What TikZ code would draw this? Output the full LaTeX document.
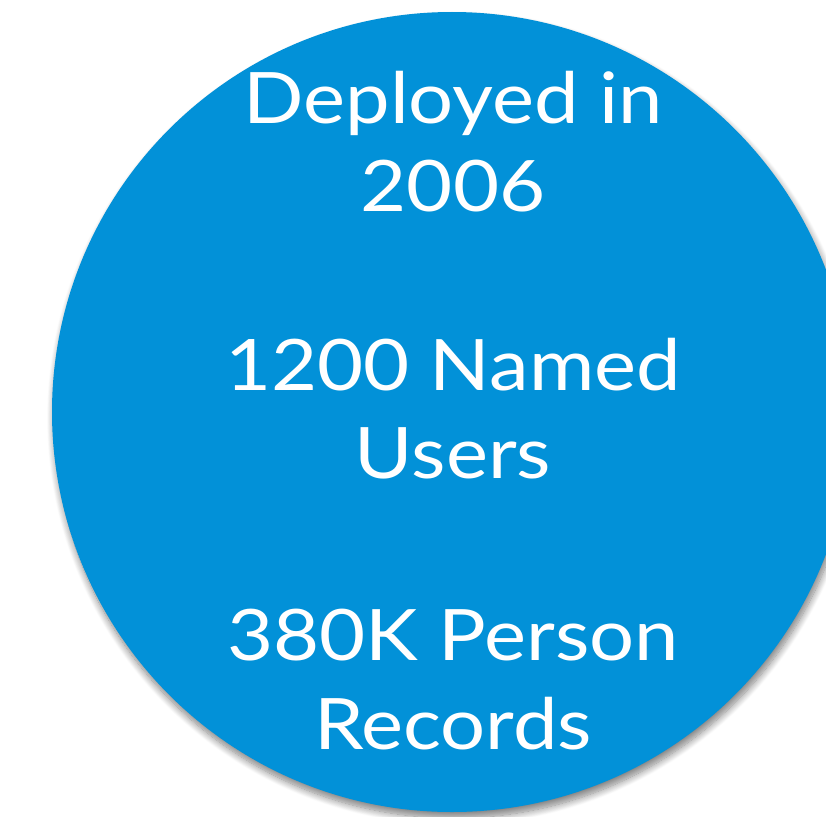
\documentclass[tikz,border=0pt]{standalone}
\usepackage{fontspec}
\setmainfont[FakeStretch=1.12]{Lato}
\usetikzlibrary{shadows.blur}
\definecolor{discblue}{RGB}{2,145,216}
\tikzset{
  disc/.style={circle, fill=discblue, minimum size=800pt, inner sep=0pt,
    blur shadow={shadow xshift=2pt, shadow yshift=-6pt, shadow blur radius=7pt,
      shadow opacity=50, shadow blur steps=12}},
  statline/.style={anchor=base, text=white, inner sep=0pt,
    font=\fontsize{71}{86}\selectfont}
}
\begin{document}
\begin{tikzpicture}[x=1pt, y=-1pt]
  \useasboundingbox (0,0) rectangle (826,816);
  \clip (0,0) rectangle (826,816);
  % the blue disc, running off the right edge
  \node[disc] (disc) at (452,412) {};
  % figures written on the disc
  \node[statline] (l1) at (453,123) {Deployed in};
  \node[statline] (l2) at (453,211) {2006};
  \node[statline] (l3) at (453,390) {1200 Named};
  \node[statline] (l4) at (453,478) {Users};
  \node[statline] (l5) at (453,660) {380K Person};
  \node[statline] (l6) at (453,749) {Records};
\end{tikzpicture}
\end{document}
